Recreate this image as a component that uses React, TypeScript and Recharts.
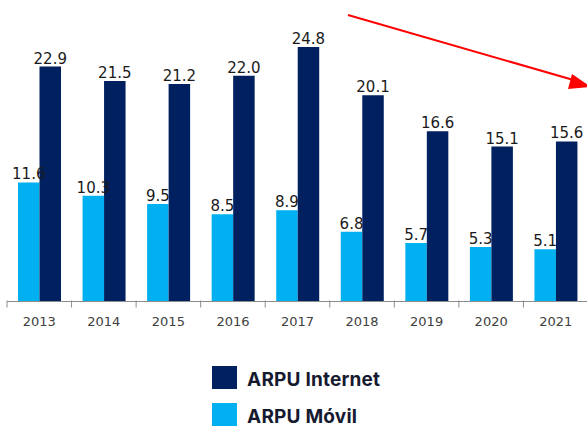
import { BarChart, Bar, XAxis, YAxis, LabelList } from "recharts";

const years = ["2013", "2014", "2015", "2016", "2017", "2018", "2019", "2020", "2021"];
const arpuMovil = [11.6, 10.3, 9.5, 8.5, 8.9, 6.8, 5.7, 5.3, 5.1];
const arpuInternet = [22.9, 21.5, 21.2, 22.0, 24.8, 20.1, 16.6, 15.1, 15.6];

const NAVY = "#002060";
const SKY = "#00b0f0";

const data = years.map((year, i) => ({
  year,
  movil: arpuMovil[i],
  internet: arpuInternet[i],
}));

const CHART_W = 600;
const CHART_H = 340;
const MARGIN = { top: 14.2, right: 12, bottom: 0, left: 7 };
const BAND = (CHART_W - MARGIN.left - MARGIN.right) / years.length;

const YearTick = (props: any) => {
  const { x, y, payload } = props;
  const left = x - BAND / 2;
  return (
    <g>
      <line x1={left} y1={y - 9} x2={left} y2={y - 2} stroke="#8c8c8c" strokeWidth={1} />
      <text
        x={x}
        y={y}
        dy={16}
        textAnchor="middle"
        fontSize={13}
        fontFamily="DejaVu Sans, sans-serif"
        fill="#404040"
      >
        {payload.value}
      </text>
    </g>
  );
};

const labelStyle = {
  fontSize: 15,
  fontFamily: "DejaVu Sans, sans-serif",
  fill: "#1a1a1a",
};

const fmt = (v: any) => Number(v).toFixed(1);

const legendItems = [
  { label: "ARPU Internet", color: NAVY },
  { label: "ARPU Móvil", color: SKY },
];

// same layout twice: bars below, then a transparent copy so the Móvil labels sit on top
const Chart = ({ overlay }: { overlay?: boolean }) => (
  <BarChart
    width={CHART_W}
    height={CHART_H}
    data={data}
    margin={MARGIN}
    barSize={21.5}
    barGap={0}
  >
    <XAxis
      dataKey="year"
      height={38.5}
      axisLine={overlay ? false : { stroke: "#8c8c8c" }}
      tickLine={false}
      tick={overlay ? false : <YearTick />}
      interval={0}
    />
    <YAxis hide domain={[0, 28]} />
    <Bar dataKey="movil" fill={overlay ? "transparent" : SKY} isAnimationActive={false}>
      {overlay && <LabelList dataKey="movil" position="top" offset={3} style={labelStyle} formatter={fmt} />}
    </Bar>
    <Bar dataKey="internet" fill={overlay ? "transparent" : NAVY} isAnimationActive={false}>
      {!overlay && <LabelList dataKey="internet" position="top" offset={3} style={labelStyle} formatter={fmt} />}
    </Bar>
  </BarChart>
);

export default function App() {
  return (
    <div
      style={{
        position: "absolute",
        left: 0,
        top: 0,
        width: 587,
        height: 427,
        overflow: "hidden",
        background: "#fff",
      }}
    >
      <Chart />
      <div style={{ position: "absolute", left: 0, top: 0 }}>
        <Chart overlay />
      </div>

      <svg
        width={587}
        height={427}
        style={{ position: "absolute", left: 0, top: 0, pointerEvents: "none" }}
      >
        <line x1={348} y1={15} x2={577} y2={81} stroke="#ff0000" strokeWidth={2} />
        <polygon points="572,74 591,87 568,89" fill="#ff0000" />
      </svg>

      <div style={{ position: "absolute", left: 212, top: 366 }}>
        {legendItems.map((item) => (
          <div
            key={item.label}
            style={{ display: "flex", alignItems: "center", height: 23, marginBottom: 14 }}
          >
            <span style={{ width: 25, height: 23, background: item.color, display: "inline-block" }} />
            <span
              style={{
                marginLeft: 10,
                position: "relative",
                top: 2,
                fontFamily: "Inter, Roboto, sans-serif",
                fontWeight: 700,
                fontSize: 19,
                letterSpacing: 0.2,
                color: "#161a30",
              }}
            >
              {item.label}
            </span>
          </div>
        ))}
      </div>
    </div>
  );
}
